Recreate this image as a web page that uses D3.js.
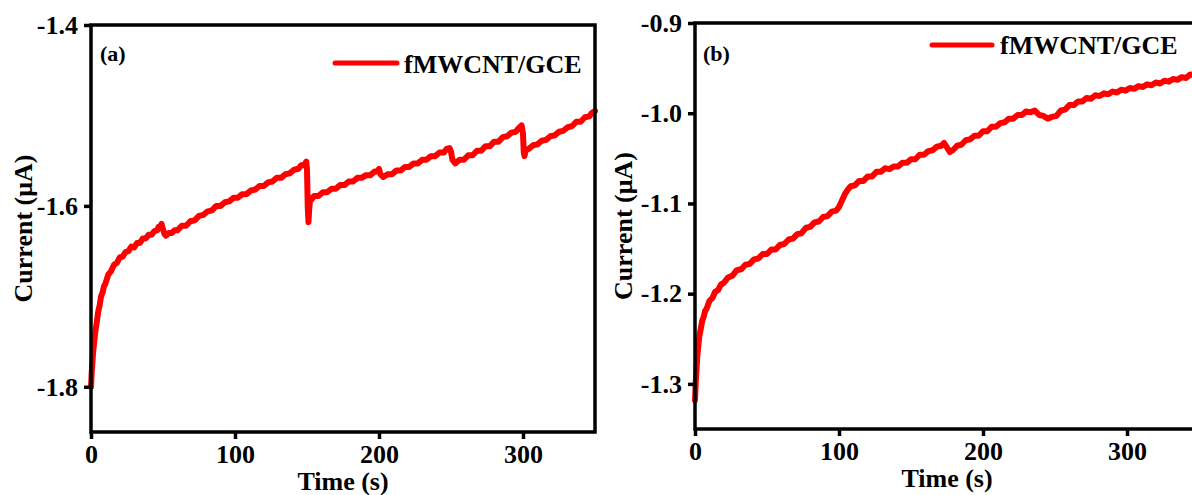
<!DOCTYPE html>
<html>
<head>
<meta charset="utf-8">
<script src="https://cdn.jsdelivr.net/npm/d3@7"></script>
<style>
  html, body { margin: 0; padding: 0; background: #fff; }
  svg { display: block; }
  text { font-family: "Liberation Serif", "Times New Roman", serif; font-weight: bold; fill: #000; }
</style>
</head>
<body>
<svg id="chart" width="1192" height="495"></svg>
<script>
// Chronoamperometric response of fMWCNT/GCE, two runs (a) and (b)
const seriesName = "fMWCNT/GCE";

const timeA = [0, 0.5, 1, 1.5, 2, 3, 4, 5, 6, 7, 8, 9, 10, 12, 14, 16, 18, 20, 22, 24, 26, 28, 30, 32, 34, 36, 38, 40, 42, 44, 46, 47, 48, 49, 50, 51, 52, 54, 56, 58, 60, 63, 66, 69, 72, 75, 78, 81, 84, 87, 90, 93, 96, 99, 102, 105, 108, 111, 114, 117, 120, 123, 126, 129, 132, 135, 138, 141, 144, 146, 148, 149.5, 150, 150.5, 151, 151.5, 152, 153, 155, 158, 161, 164, 167, 170, 173, 176, 179, 182, 185, 188, 191, 194, 197, 199, 200, 201, 203, 206, 209, 212, 215, 218, 221, 224, 227, 230, 233, 236, 239, 242, 245, 247, 249, 250, 251, 253, 256, 259, 262, 265, 268, 271, 274, 277, 280, 283, 286, 289, 292, 295, 297, 299, 300, 300.5, 301, 302, 304, 307, 310, 313, 316, 319, 322, 325, 328, 331, 334, 337, 340, 343, 346, 348, 350];
const currentA = [-1.800, -1.784, -1.773, -1.761, -1.754, -1.739, -1.729, -1.717, -1.710, -1.700, -1.696, -1.689, -1.686, -1.676, -1.672, -1.665, -1.663, -1.657, -1.656, -1.651, -1.650, -1.645, -1.646, -1.641, -1.641, -1.636, -1.636, -1.632, -1.632, -1.628, -1.627, -1.623, -1.623, -1.620, -1.626, -1.631, -1.633, -1.630, -1.630, -1.627, -1.627, -1.622, -1.622, -1.617, -1.616, -1.611, -1.610, -1.606, -1.605, -1.600, -1.600, -1.596, -1.595, -1.591, -1.591, -1.587, -1.587, -1.583, -1.582, -1.578, -1.578, -1.574, -1.573, -1.569, -1.569, -1.565, -1.564, -1.560, -1.559, -1.555, -1.555, -1.551, -1.560, -1.600, -1.618, -1.605, -1.595, -1.593, -1.589, -1.589, -1.585, -1.585, -1.581, -1.581, -1.577, -1.577, -1.573, -1.573, -1.569, -1.569, -1.566, -1.566, -1.562, -1.562, -1.559, -1.565, -1.568, -1.565, -1.565, -1.561, -1.561, -1.557, -1.557, -1.553, -1.553, -1.549, -1.549, -1.545, -1.545, -1.541, -1.541, -1.537, -1.536, -1.540, -1.549, -1.553, -1.549, -1.549, -1.544, -1.544, -1.539, -1.539, -1.534, -1.534, -1.529, -1.529, -1.524, -1.523, -1.519, -1.518, -1.514, -1.511, -1.520, -1.540, -1.545, -1.538, -1.537, -1.533, -1.532, -1.528, -1.527, -1.523, -1.522, -1.518, -1.517, -1.513, -1.512, -1.507, -1.507, -1.502, -1.501, -1.497, -1.495];

const timeB = [0, 0.5, 1, 1.5, 2, 3, 4, 5, 6, 7, 8, 10, 12, 14, 16, 18, 20, 23, 26, 29, 32, 35, 38, 41, 44, 47, 50, 53, 56, 59, 62, 65, 68, 71, 74, 77, 80, 83, 86, 89, 92, 95, 98, 100, 102, 104, 106, 108, 111, 114, 117, 120, 123, 126, 129, 132, 135, 138, 141, 144, 147, 150, 153, 156, 159, 162, 165, 168, 171, 173, 175, 177, 179, 182, 185, 188, 191, 194, 197, 200, 203, 206, 209, 212, 215, 218, 221, 224, 227, 230, 233, 236, 239, 242, 245, 248, 251, 254, 257, 260, 263, 266, 269, 272, 275, 278, 281, 284, 287, 290, 293, 296, 299, 302, 305, 308, 311, 314, 317, 320, 323, 326, 329, 332, 335, 338, 341, 344, 347, 350];
const currentB = [-1.318, -1.299, -1.286, -1.271, -1.263, -1.247, -1.239, -1.230, -1.226, -1.219, -1.217, -1.208, -1.205, -1.198, -1.196, -1.190, -1.188, -1.182, -1.180, -1.174, -1.173, -1.168, -1.167, -1.162, -1.161, -1.156, -1.156, -1.151, -1.151, -1.146, -1.145, -1.140, -1.139, -1.134, -1.133, -1.127, -1.126, -1.121, -1.120, -1.115, -1.114, -1.109, -1.108, -1.104, -1.097, -1.090, -1.085, -1.081, -1.080, -1.075, -1.075, -1.070, -1.070, -1.065, -1.065, -1.061, -1.062, -1.059, -1.059, -1.055, -1.055, -1.051, -1.051, -1.046, -1.046, -1.042, -1.041, -1.037, -1.036, -1.033, -1.038, -1.043, -1.041, -1.036, -1.035, -1.030, -1.029, -1.025, -1.025, -1.020, -1.020, -1.015, -1.015, -1.011, -1.010, -1.006, -1.006, -1.002, -1.002, -0.998, -0.999, -0.997, -1.002, -1.003, -1.006, -1.004, -1.003, -0.997, -0.996, -0.991, -0.991, -0.987, -0.987, -0.983, -0.984, -0.980, -0.981, -0.978, -0.979, -0.976, -0.977, -0.974, -0.975, -0.972, -0.973, -0.970, -0.971, -0.968, -0.969, -0.966, -0.967, -0.964, -0.965, -0.962, -0.963, -0.960, -0.961, -0.957, -0.958, -0.955];

const timeTicks = [0, 100, 200, 300];
const currentTicksA = [-1.4, -1.6, -1.8];
const currentTicksB = [-0.9, -1.0, -1.1, -1.2, -1.3];

const panels = [
  { tag: "(a)", time: timeA, current: currentA, yDomain: [-1.85, -1.4], yTicks: currentTicksA,
    left: 91, right: 595, top: 25, bottom: 432, titleX: 22,
    tagPos: [100, 61], legendLine: [335, 397, 63], legendText: [404, 73] },
  { tag: "(b)", time: timeB, current: currentB, yDomain: [-1.35, -0.9], yTicks: currentTicksB,
    left: 695, right: 1199, top: 23, bottom: 429, titleX: 622,
    tagPos: [703, 61], legendLine: [932, 992, 45], legendText: [1000, 54] }
];

const svg = d3.select("#chart");
const red = "#ff0000";

panels.forEach(p => {
  const x = d3.scaleLinear().domain([0, 350]).range([p.left, p.right]);
  const y = d3.scaleLinear().domain(p.yDomain).range([p.bottom, p.top]);
  const g = svg.append("g");

  // current trace
  const pts = p.time.map((t, i) => [t, p.current[i]]);
  g.append("path")
    .datum(pts)
    .attr("fill", "none")
    .attr("stroke", red)
    .attr("stroke-width", 6)
    .attr("stroke-linejoin", "round")
    .attr("stroke-linecap", "round")
    .attr("d", d3.line().x(d => x(d[0])).y(d => y(d[1])));

  // frame
  g.append("rect")
    .attr("x", p.left).attr("y", p.top)
    .attr("width", p.right - p.left).attr("height", p.bottom - p.top)
    .attr("fill", "none").attr("stroke", "#000").attr("stroke-width", 3.5);

  // axes
  const xAxis = d3.axisBottom(x).tickValues(timeTicks).tickSize(7).tickPadding(6).tickFormat(d3.format("d"));
  const yAxis = d3.axisLeft(y).tickValues(p.yTicks).tickSize(7).tickPadding(6).tickFormat(d => d.toFixed(1));

  const gx = g.append("g").attr("transform", `translate(0,${p.bottom})`).call(xAxis);
  const gy = g.append("g").attr("transform", `translate(${p.left},0)`).call(yAxis);
  [gx, gy].forEach(a => {
    a.select(".domain").remove();
    a.selectAll(".tick line").attr("stroke", "#000").attr("stroke-width", 3.5);
    a.selectAll(".tick text")
      .style("font-family", '"Liberation Serif", "Times New Roman", serif')
      .style("font-weight", "bold")
      .style("font-size", "26px")
      .attr("fill", "#000");
  });

  // axis titles
  g.append("text")
    .attr("x", (p.left + p.right) / 2).attr("y", p.bottom + 58)
    .attr("text-anchor", "middle").style("font-size", "26px")
    .text("Time (s)");
  g.append("text")
    .attr("transform", `translate(${p.titleX + 10},${(p.top + p.bottom) / 2}) rotate(-90)`)
    .attr("text-anchor", "middle").style("font-size", "26px")
    .text("Current (\u03bcA)");

  // panel tag
  g.append("text")
    .attr("x", p.tagPos[0]).attr("y", p.tagPos[1])
    .style("font-size", "22px").text(p.tag);

  // legend
  g.append("line")
    .attr("x1", p.legendLine[0]).attr("x2", p.legendLine[1])
    .attr("y1", p.legendLine[2]).attr("y2", p.legendLine[2])
    .attr("stroke", red).attr("stroke-width", 5).attr("stroke-linecap", "round");
  g.append("text")
    .attr("x", p.legendText[0]).attr("y", p.legendText[1])
    .style("font-size", "26px").text(seriesName);
});
</script>
</body>
</html>
